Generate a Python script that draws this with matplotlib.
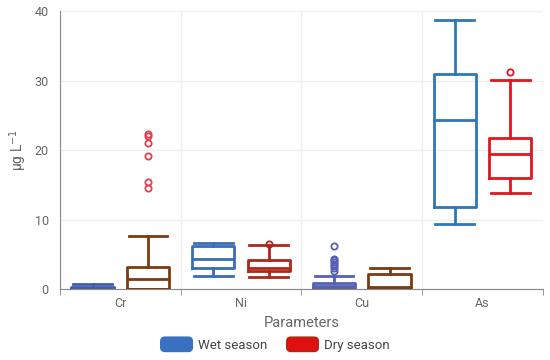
import matplotlib.pyplot as plt
from matplotlib.patches import Patch, FancyBboxPatch
from matplotlib.legend_handler import HandlerPatch

plt.rcParams['font.family'] = ['Roboto', 'DejaVu Sans']

# Parameters and box statistics (µg/L)
params = ['Cr', 'Ni', 'Cu', 'As']

wet_lo = [0.0, 1.9, 0.0, 9.3]
wet_q1 = [0.0, 3.0, 0.1, 11.8]
wet_med = [0.2, 4.3, 0.4, 24.4]
wet_q3 = [0.3, 6.2, 0.9, 30.9]
wet_hi = [0.8, 6.6, 1.9, 38.7]
wet_fliers = [[], [], [2.6, 3.0, 3.3, 3.6, 3.9, 4.2, 4.4, 6.2], []]

dry_lo = [0.0, 1.8, 0.0, 13.8]
dry_q1 = [0.0, 2.6, 0.0, 16.0]
dry_med = [1.4, 3.1, 0.3, 19.5]
dry_q3 = [3.2, 4.2, 2.2, 21.8]
dry_hi = [7.6, 6.4, 3.0, 30.1]
dry_fliers = [[14.5, 15.4, 19.1, 21.0, 22.1, 22.3], [6.5], [], [31.2]]

wet_colors = ['#3f5db0', '#3a6cb8', '#5560b4', '#2e78b8']
dry_colors = ['#7a3a12', '#b0261a', '#7a3a12', '#e0161e']
dry_flier_colors = ['#e04050', '#b0261a', '#7a3a12', '#e0161e']


def stats(lo, q1, med, q3, hi, fl):
    return [dict(whislo=lo[i], q1=q1[i], med=med[i], q3=q3[i], whishi=hi[i],
                 fliers=fl[i]) for i in range(len(lo))]


class RoundHandler(HandlerPatch):
    def create_artists(self, legend, orig, xd, yd, w, h, fs, trans):
        p = FancyBboxPatch((-xd, -yd), w, h, boxstyle='round,pad=0,rounding_size=3',
                           facecolor=orig.get_facecolor(), edgecolor=orig.get_edgecolor(),
                           linewidth=1, transform=trans)
        return [p]


fig = plt.figure(figsize=(5.5, 3.6), dpi=100)
ax = fig.add_axes([0.109, 0.197, 0.878, 0.772])

wet = stats(wet_lo, wet_q1, wet_med, wet_q3, wet_hi, wet_fliers)
dry = stats(dry_lo, dry_q1, dry_med, dry_q3, dry_hi, dry_fliers)
off = 0.23
for i in range(len(params)):
    for st, c, fc, dx in [(wet[i], wet_colors[i], wet_colors[i], -off),
                          (dry[i], dry_colors[i], dry_flier_colors[i], off)]:
        lp = dict(color=c, linewidth=2)
        ax.bxp([st], positions=[i + dx], widths=0.35, capwidths=0.32,
               boxprops=lp, whiskerprops=lp, capprops=lp, medianprops=lp,
               flierprops=dict(marker='o', markersize=4.5, markerfacecolor='none',
                               markeredgecolor=fc, markeredgewidth=1.3),
               manage_ticks=False)

ax.set_xlim(-0.5, len(params) - 0.5)
ax.set_ylim(0, 40)
ax.set_yticks([0, 10, 20, 30, 40])
ax.set_xticks(range(len(params)))
ax.set_xticklabels(params)
ax.set_xticks([k - 0.5 for k in range(len(params) + 1)], minor=True)
ax.tick_params(axis='x', which='major', length=0, pad=6, labelsize=9, labelcolor='#666666')
ax.tick_params(axis='x', which='minor', length=4, color='#888888')
ax.tick_params(axis='y', length=0, labelsize=9, labelcolor='#666666', pad=8)
ax.grid(True, axis='y', color='#eeeeee', linewidth=1)
ax.grid(True, axis='x', which='minor', color='#eeeeee', linewidth=1)
ax.set_axisbelow(True)
for s in ['top', 'right']:
    ax.spines[s].set_visible(False)
for s in ['left', 'bottom']:
    ax.spines[s].set_color('#888888')

ax.set_ylabel('μg L$^{-1}$', color='#666666', fontsize=10)
ax.set_xlabel('Parameters', color='#666666', fontsize=10.5, labelpad=4)

handles = [Patch(facecolor='#3a70c0', edgecolor='#3a70c0', label='Wet season'),
           Patch(facecolor='#e01010', edgecolor='#a03010', label='Dry season')]
fig.legend(handles=handles, loc='lower center', bbox_to_anchor=(0.5, -0.01), ncol=2,
           frameon=False, fontsize=9.5, handlelength=2.4, handleheight=1.3,
           columnspacing=1.5, handletextpad=0.4, labelcolor='#444444',
           handler_map={Patch: RoundHandler()})

fig.savefig('out.png')
